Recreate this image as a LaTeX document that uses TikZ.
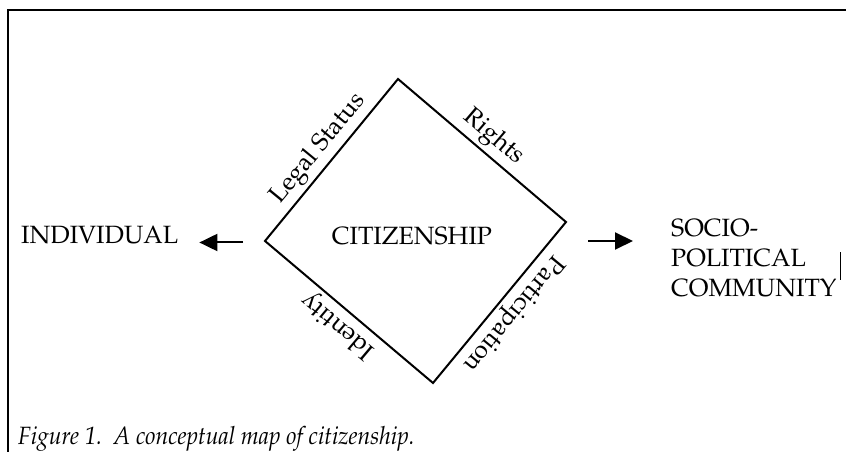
\documentclass[tikz,border=0pt]{standalone}
\usepackage[T1]{fontenc}
\usepackage{mathpazo}
\usetikzlibrary{arrows.meta}
\begin{document}
\begin{tikzpicture}[x=1pt,y=1pt,
  txt/.style={font=\fontsize{25}{30}\selectfont, inner sep=0pt},
  lbl/.style={font=\fontsize{25}{30}\selectfont, sloped, allow upside down, above, inner sep=3.5pt, pos=0.5},
  edgeline/.style={line width=2pt, line join=miter},
  arr/.style={line width=2pt, -{Triangle[length=18pt,width=17pt]}},
]
\useasboundingbox (0,0) rectangle (846,452);
\draw[line width=2pt] (8,0) -- (8,441.5) -- (846,441.5);
\coordinate (L) at (265,211);
\coordinate (T) at (398,373);
\coordinate (R) at (566,230);
\coordinate (B) at (433,69);
\draw[edgeline] (L) -- node[lbl]{Legal Status} (T) -- node[lbl]{Rights} (R) -- node[lbl]{Participation} (B) -- node[lbl]{Identity} cycle;
\node[txt, anchor=base] (cit) at (412,207) {CITIZENSHIP};
\node[txt, anchor=base west] (ind) at (21,208) {INDIVIDUAL};
\node[txt, anchor=north west, align=left] (soc) at (671,233) {SOCIO-\\POLITICAL\\COMMUNITY};
\coordinate (lt) at (243,209.5);
\coordinate (rt) at (588,211);
\draw[arr, shorten >=21pt] (lt) -- (lt -| ind.east);
\draw[arr, shorten >=38pt] (rt) -- (rt -| soc.west);
\draw[line width=1pt] (840,172) -- (840,200);
\node[anchor=base west, inner sep=0pt, font=\fontsize{25}{30}\selectfont\itshape] (cap) at (18,7) {\scalebox{0.92}[1]{Figure 1.\ \ A conceptual map of citizenship.}};
\end{tikzpicture}
\end{document}
